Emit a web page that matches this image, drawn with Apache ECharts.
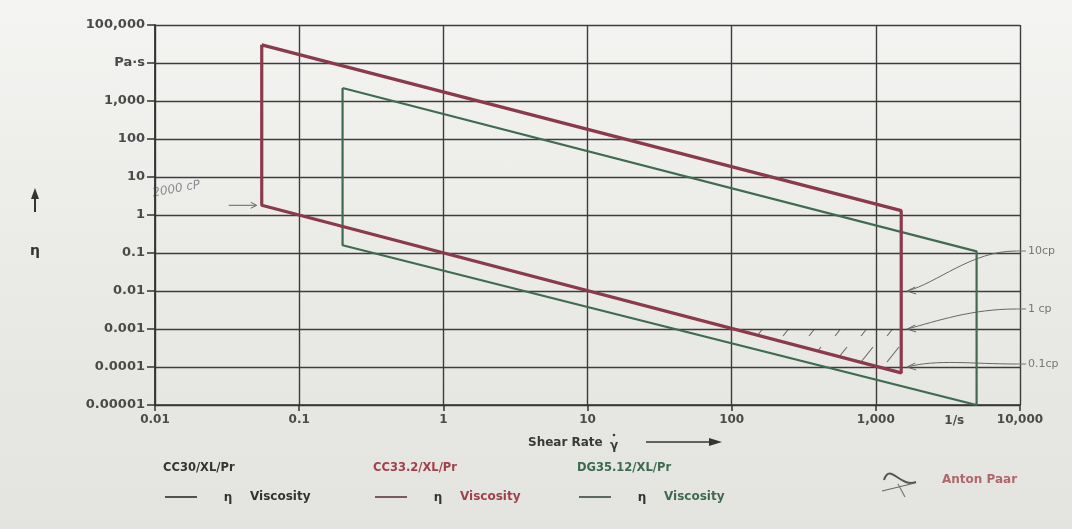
<!DOCTYPE html>
<html>
<head>
<meta charset="utf-8">
<script src="https://cdn.jsdelivr.net/npm/echarts@6/dist/echarts.min.js"></script>
<style>
html,body{margin:0;padding:0;}
body{width:1072px;height:529px;background:linear-gradient(180deg,#f4f4f2 0%,#ebebe8 45%,#e3e3e0 100%);}
#c{width:1072px;height:529px;}
</style>
</head>
<body>
<div id="c"></div>
<script>
// ---- data ----
const xTickLabels = ['0.01', '0.1', '1', '10', '100', '1,000', '10,000'];
const yTickLabels = ['0.00001', '0.0001', '0.001', '0.01', '0.1', '1', '10', '100', '1,000', 'Pa·s', '100,000'];
const seriesNames = ['CC30/XL/Pr', 'CC33.2/XL/Pr', 'DG35.12/XL/Pr'];
// CC30/XL/Pr: no visible range in the picture
const blackShear = [];
const blackVisc = [];
// CC33.2/XL/Pr measuring range (closed outline)
const redShear = [0.055, 1500, 1500, 0.055, 0.055];
const redVisc = [30000, 1.3, 0.00007, 1.8, 30000];
// DG35.12/XL/Pr measuring range (closed outline)
const greenShear = [0.2, 5000, 5000, 0.2, 0.2];
const greenVisc = [2200, 0.11, 0.00001, 0.16, 2200];
// hatched region (hand drawn)
const hatchShear = [100, 1500, 1500];
const hatchVisc = [0.001, 0.001, 0.00007];
// hand-written annotations
const noteLeftText = '2000 cP';
const noteLeftShear = 0.055;
const noteLeftVisc = 1.8;
const noteRightLabels = ['10cp', '1 cp', '0.1cp'];
const noteRightVisc = [0.01, 0.001, 0.0001];
const unitLabelShear = 3500;

const pairs = (xs, ys) => xs.map((x, i) => [x, ys[i]]);
const dec = v => Math.round(Math.log10(v));

const chart = echarts.init(document.getElementById('c'), null, {renderer: 'canvas'});
const FONT = '"DejaVu Sans", "Liberation Sans", Arial, sans-serif';

// hatch pattern
const pat = document.createElement('canvas');
pat.width = 26; pat.height = 26;
(function(){
  const g = pat.getContext('2d');
  g.strokeStyle = 'rgba(60,60,60,0.75)';
  g.lineWidth = 1.1;
  g.beginPath(); g.moveTo(3, 24); g.lineTo(15, 9); g.stroke();
})();

const legendBase = (idx, left, color) => ({
  data: [seriesNames[idx]],
  left: left, top: 486,
  icon: 'rect', itemWidth: 32, itemHeight: 1.5,
  itemGap: 0, selectedMode: false,
  textStyle: {
    fontFamily: FONT, fontSize: 12, fontWeight: 'bold', color: color,
    rich: {
      e: {fontFamily: FONT, fontSize: 12, fontWeight: 'bold', color: '#333', width: 40, align: 'center', padding: [2, 0, 0, 6]},
      v: {fontFamily: FONT, fontSize: 12, fontWeight: 'bold', color: color, padding: [0, 0, 0, 2]}
    }
  },
  formatter: () => '{e|η}{v|Viscosity}'
});

const option = {
  animation: false,
  backgroundColor: 'transparent',
  grid: {left: 155, right: 52, top: 25, bottom: 124},
  xAxis: {
    type: 'log', logBase: 10, min: 0.01, max: 10000, interval: 1,
    axisLine: {show: true, lineStyle: {color: '#333', width: 1.6}},
    axisTick: {show: true, length: 6, lineStyle: {color: '#333', width: 1.5}},
    axisLabel: {
      fontFamily: FONT, fontSize: 12, fontWeight: 'bold', color: '#4a4a4a', margin: 9,
      formatter: v => xTickLabels[dec(v) + 2]
    },
    splitLine: {show: true, lineStyle: {color: '#3d3d3d', width: 1.4}}
  },
  yAxis: {
    type: 'log', logBase: 10, min: 0.00001, max: 100000, interval: 1,
    axisLine: {show: true, lineStyle: {color: '#333', width: 1.8}},
    axisTick: {show: true, length: 8, lineStyle: {color: '#333', width: 1.5}},
    axisLabel: {
      fontFamily: FONT, fontSize: 13, fontWeight: 'bold', color: '#4a4a4a', margin: 10,
      formatter: v => yTickLabels[dec(v) + 5]
    },
    splitLine: {show: true, lineStyle: {color: '#3d3d3d', width: 1.4}}
  },
  legend: [
    legendBase(0, 160, '#333'),
    legendBase(1, 370, '#a0404a'),
    legendBase(2, 574, '#3d6a4f')
  ],
  series: [
    {
      name: seriesNames[0], type: 'line', data: pairs(blackShear, blackVisc),
      showSymbol: false, lineStyle: {color: '#222', width: 2}, itemStyle: {color: '#222'}
    },
    {
      name: 'hatch', type: 'custom', silent: true, z: 1,
      data: [[hatchShear[0], hatchVisc[0]]],
      renderItem: (params, api) => {
        const pts = hatchShear.map((x, i) => api.coord([x, hatchVisc[i]]));
        return {type: 'polygon', shape: {points: pts}, style: {fill: {image: pat, repeat: 'repeat'}, stroke: null}};
      }
    },
    {
      name: seriesNames[1], type: 'line', data: pairs(redShear, redVisc),
      showSymbol: false, z: 4,
      lineStyle: {color: '#8a3a4a', width: 3.2}, itemStyle: {color: '#5a2a33'}
    },
    {
      name: seriesNames[2], type: 'line', data: pairs(greenShear, greenVisc),
      showSymbol: false, z: 3,
      lineStyle: {color: '#3f6b50', width: 2.2}, itemStyle: {color: '#2f3f35'}
    }
  ]
};
chart.setOption(option);

// ---- decorations positioned from data coordinates ----
function px(x, y) { return chart.convertToPixel({gridIndex: 0}, [x, y]); }
const plotL = px(0.01, 1)[0], plotR = px(10000, 1)[0], plotB = px(1, 0.00001)[1];
const gfx = [];
// axis names
gfx.push({type: 'text', left: 528, top: 437, style: {text: 'Shear Rate', font: 'bold 12px ' + FONT, fill: '#3a3a3a'}});
gfx.push({type: 'text', left: 610, top: 440, style: {text: 'γ', font: 'bold 12px ' + FONT, fill: '#3a3a3a'}});
gfx.push({type: 'circle', shape: {cx: 614, cy: 435, r: 1.3}, style: {fill: '#3a3a3a'}});
gfx.push({type: 'line', shape: {x1: 646, y1: 442, x2: 712, y2: 442}, style: {stroke: '#333', lineWidth: 1.6}});
gfx.push({type: 'polygon', shape: {points: [[722, 442], [709, 438], [709, 446]]}, style: {fill: '#333'}});
gfx.push({type: 'text', left: 30, top: 244, style: {text: 'η', font: 'bold 14px ' + FONT, fill: '#333'}});
gfx.push({type: 'line', shape: {x1: 35, y1: 198, x2: 35, y2: 212}, style: {stroke: '#333', lineWidth: 2}});
gfx.push({type: 'polygon', shape: {points: [[35, 188], [31, 199], [39, 199]]}, style: {fill: '#333'}});
// unit label on x axis
const u = px(unitLabelShear, 0.00001);
gfx.push({type: 'text', x: u[0], y: plotB + 10, style: {text: '1/s', font: 'bold 12px ' + FONT, fill: '#4a4a4a', align: 'center'}});
// legend headers
[[163, '#333'], [373, '#a0404a'], [577, '#3d6a4f']].forEach((h, i) => {
  gfx.push({type: 'text', left: h[0], top: 462, style: {text: seriesNames[i], font: 'bold 11.5px ' + FONT, fill: h[1]}});
});
// Anton Paar logo
gfx.push({type: 'bezierCurve', shape: {x1: 884, y1: 480, x2: 916, y2: 482, cpx1: 890, cpy1: 462, cpx2: 900, cpy2: 488}, style: {stroke: '#555', lineWidth: 2, fill: null}});
gfx.push({type: 'line', shape: {x1: 882, y1: 491, x2: 915, y2: 483}, style: {stroke: '#666', lineWidth: 1.2}});
gfx.push({type: 'line', shape: {x1: 898, y1: 484, x2: 905, y2: 497}, style: {stroke: '#777', lineWidth: 1.2}});
gfx.push({type: 'text', left: 942, top: 474, style: {text: 'Anton Paar', font: 'bold 12px ' + FONT, fill: '#b0676b'}});
// hand-written annotation (left)
const nl = px(noteLeftShear, noteLeftVisc);
gfx.push({type: 'text', x: nl[0] - 108, y: nl[1] - 6, rotation: 0.18, style: {text: noteLeftText, font: 'italic 12px "DejaVu Sans", sans-serif', fill: '#8a8a90', verticalAlign: 'bottom'}});
gfx.push({type: 'line', shape: {x1: nl[0] - 33, y1: nl[1], x2: nl[0] - 6, y2: nl[1]}, style: {stroke: '#666', lineWidth: 1}});
gfx.push({type: 'polyline', shape: {points: [[nl[0] - 11, nl[1] - 3], [nl[0] - 5, nl[1]], [nl[0] - 11, nl[1] + 3]]}, style: {stroke: '#666', lineWidth: 1, fill: null}});
// hand-written annotations (right)
const textDy = [-40, -20, -3];
noteRightVisc.forEach((v, i) => {
  const tip = px(redShear[1] * 1.1, v);
  const ty = tip[1] + textDy[i];
  const sx = plotR - 4;
  gfx.push({type: 'bezierCurve', shape: {x1: sx, y1: ty, x2: tip[0], y2: tip[1], cpx1: (sx + tip[0]) / 2 + 10, cpy1: ty, cpx2: tip[0] + 30, cpy2: tip[1] - 8}, style: {stroke: '#666', lineWidth: 1, fill: null}});
  gfx.push({type: 'polyline', shape: {points: [[tip[0] + 8, tip[1] - 4], [tip[0], tip[1]], [tip[0] + 9, tip[1] + 3]]}, style: {stroke: '#666', lineWidth: 1, fill: null}});
  gfx.push({type: 'line', shape: {x1: sx, y1: ty, x2: plotR + 6, y2: ty}, style: {stroke: '#777', lineWidth: 1}});
  gfx.push({type: 'text', x: plotR + 8, y: ty, style: {text: noteRightLabels[i], font: '11px "DejaVu Sans", sans-serif', fill: '#777', verticalAlign: 'middle'}});
});
chart.setOption({graphic: {elements: gfx}});
</script>
</body>
</html>
